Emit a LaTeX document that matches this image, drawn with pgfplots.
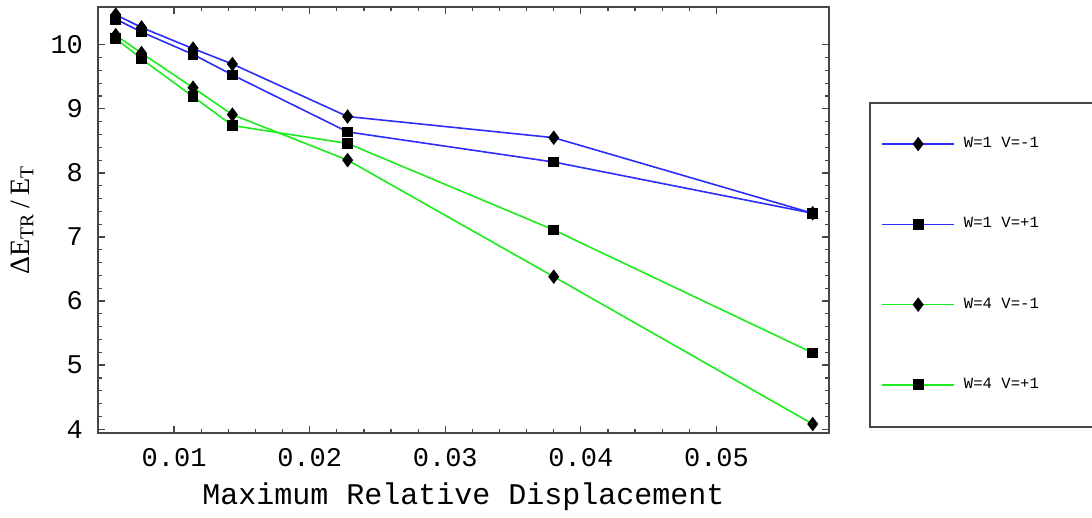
\documentclass[border=0pt]{standalone}
\usepackage{fontspec}
\setmainfont{Liberation Mono}
\newfontfamily\serif{Liberation Serif}
\usepackage{pgfplots}
\pgfplotsset{compat=1.18}
\definecolor{lblue}{RGB}{45,45,250}
\definecolor{lgreen}{RGB}{30,235,30}
\definecolor{frame}{RGB}{70,70,70}

\pgfplotstableread{
x       a      b      c      d
0.0057  10.47  10.40  10.15  10.10
0.0076  10.27  10.20  9.87   9.78
0.0114  9.94   9.85   9.33   9.19
0.0143  9.70   9.53   8.91   8.74
0.0228  8.88   8.64   8.20   8.46
0.0380  8.55   8.17   6.38   7.11
0.0571  7.37   7.37   4.08   5.19
}\data

\begin{document}
\begin{tikzpicture}
\useasboundingbox (-49pt,-42.5pt) rectangle (497pt,216.5pt);
\begin{axis}[
  scale only axis, width=365.5pt, height=213pt,
  xmin=0.00439, xmax=0.0583, ymin=3.94, ymax=10.59,
  scaled x ticks=false,
  xtick={0.01,0.02,0.03,0.04,0.05},
  xticklabels={0.01,0.02,0.03,0.04,0.05},
  ytick={4,5,6,7,8,9,10},
  minor tick num=4,
  tick align=inside,
  major tick length=3.5pt, minor tick length=2pt,
  axis line style={frame, line width=1pt},
  tick style={frame, line width=0.6pt},
  /pgf/number format/assume math mode=true,
  ticklabel style={font=\fontsize{13.5}{14}\selectfont},
  xticklabel style={yshift=-4pt},
  yticklabel style={xshift=-4pt},
  xlabel={Maximum Relative Displacement},
  ylabel={{\serif ΔE\textsubscript{TR}\,/\,E\textsubscript{T}}},
  xlabel style={at={(axis description cs:0.5,-0.15)}, anchor=center, font=\fontsize{15}{16}\selectfont},
  ylabel style={at={(axis description cs:-0.104,0.5)}, anchor=center, font=\fontsize{14}{15}\selectfont},
  legend image code/.code={\draw[mark repeat=2,mark phase=2,#1] plot coordinates {(0pt,0pt)(18pt,0pt)(36pt,0pt)};},
  legend style={at={(axis description cs:1.0711,0.6948)}, anchor=north west,
    draw=none, fill=none, inner xsep=0pt, inner ysep=0pt,
    row sep=33.5pt,
    nodes={inner sep=0pt, font=\fontsize{7.8}{8}\selectfont},
    /tikz/every odd column/.append style={column sep=4.5pt}},
  legend cell align=left,
]
\addplot[lblue, line width=0.8pt, mark=diamond*, mark size=3pt, mark options={black, fill=black}] table[x=x,y=a] {\data};
\addplot[lblue, line width=0.8pt, mark=square*, mark size=2.3pt, mark options={black, fill=black}] table[x=x,y=b] {\data};
\addplot[lgreen, line width=0.8pt, mark=diamond*, mark size=3pt, mark options={black, fill=black}] table[x=x,y=c] {\data};
\addplot[lgreen, line width=0.8pt, mark=square*, mark size=2.3pt, mark options={black, fill=black}] table[x=x,y=d] {\data};
\legend{W=1 V=-1, W=1 V=+1, W=4 V=-1, W=4 V=+1}
\end{axis}
\draw[frame, line width=1pt] (386pt,3pt) rectangle (505pt,165pt);
\end{tikzpicture}
\end{document}
